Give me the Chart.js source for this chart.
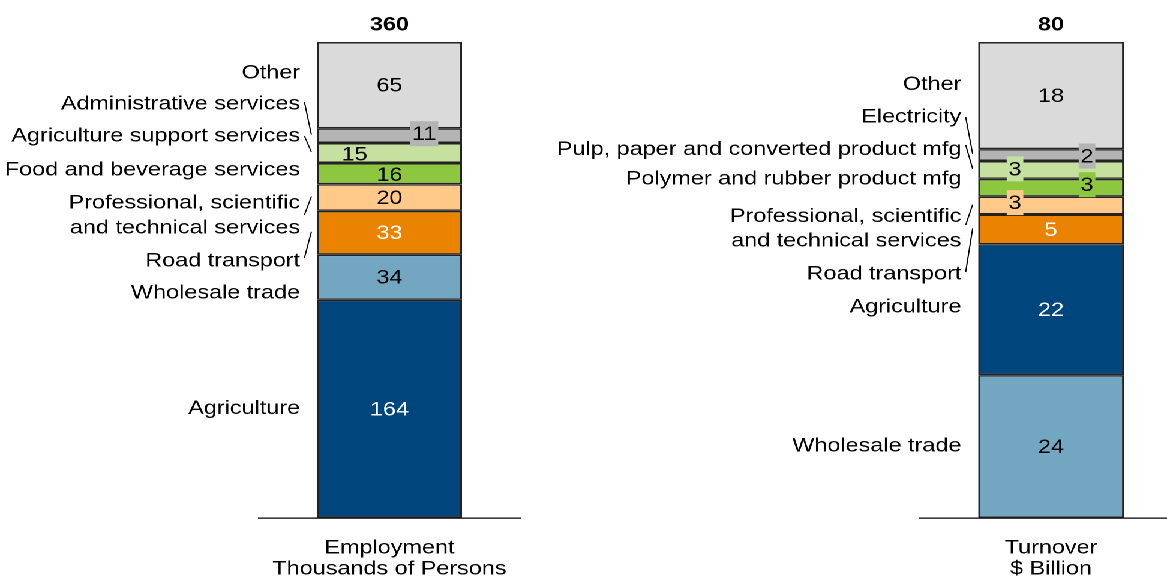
<!DOCTYPE html>
<html>
<head>
<meta charset="utf-8">
<script src="https://cdn.jsdelivr.net/npm/chart.js@4.4.0/dist/chart.umd.min.js"></script>
<style>
html, body { margin: 0; padding: 0; background: #fff; width: 1167px; height: 578px; overflow: hidden; }
#wrap { position: absolute; left: 0; top: 0; width: 1010px; height: 600px; transform: scaleX(1.2); transform-origin: 0 0; }
#empChart { position: absolute; left: 0; top: 0; }
#turnChart { position: absolute; left: 440px; top: 0; }
</style>
</head>
<body>
<div id="wrap">
  <canvas id="empChart" width="460" height="600"></canvas>
  <canvas id="turnChart" width="570" height="600"></canvas>
</div>
<script>
// values, bottom segment first
var empCategories = ['Agriculture', 'Wholesale trade', 'Road transport', ['Professional, scientific', 'and technical services'],
  'Food and beverage services', 'Agriculture support services', 'Administrative services', 'Other'];
var empValues = [164, 34, 33, 20, 16, 15, 11, 65];
var empTotal = 360;
var empTick = ['Employment', 'Thousands of Persons'];

var turnCategories = ['Wholesale trade', 'Agriculture', 'Road transport', ['Professional, scientific', 'and technical services'],
  'Polymer and rubber product mfg', 'Pulp, paper and converted product mfg', 'Electricity', 'Other'];
var turnValues = [24, 22, 5, 3, 3, 3, 2, 18];
var turnTotal = 80;
var turnTick = ['Turnover', '$ Billion'];

// colours
var navy = '#00457c', steel = '#73a6c0', orange = '#e98300', peach = '#ffc98a';
var green = '#8dc63f', lightGreen = '#c5e09f', grey = '#b4b4b4', lightGrey = '#dadada';
var empColors = [navy, steel, orange, peach, green, lightGreen, grey, lightGrey];
var turnColors = [steel, navy, orange, peach, green, lightGreen, grey, lightGrey];
var empText = ['#fff', '#000', '#fff', '#000', '#000', '#000', '#000', '#000'];
var turnText = ['#000', '#fff', '#fff', '#000', '#000', '#000', '#000', '#000'];

// label layout (pixels)
var empLabelY = [407.5, 292, 260, [202, 227], 169, 135, 103, 72];
var empLeader = [null, null, 258, 215, null, 136, 102, null];
var empValDx = [0, 0, 0, 0, 0, -29, 29, 0];
var empValDy = [0, 0, 0, 0, 1, 1, -2, 0];
var empValBox = [false, false, false, false, false, false, true, false];

var turnLabelY = [445, 306, 273, [215.5, 240], 178, 148.5, 116, 83.5];
var turnLeader = [null, null, 272, 225, null, 145, 117, null];
var turnValDx = [0, 0, 0, -30, 30, -30, 30, 0];
var turnValDy = [0, 0, 0, -3, -3, -1, 1, 0];
var turnValBox = [false, false, false, true, true, true, true, false];

var FONT = '"Liberation Sans", Arial, sans-serif';
Chart.defaults.font.family = FONT;
Chart.defaults.font.size = 19.5;
Chart.defaults.color = '#000';

function segLabels(o) {
  return {
    id: 'segLabels',
    afterDraw: function (chart) {
      var ctx = chart.ctx;
      ctx.save();
      ctx.font = '19.5px ' + FONT;
      ctx.textBaseline = 'middle';
      var top = null;
      for (var i = 0; i < o.values.length; i++) {
        var el = chart.getDatasetMeta(i).data[0];
        var left = el.x - el.width / 2;
        var mid = (el.y + el.base) / 2;
        if (top === null || el.y < top.y) top = el;

        // value inside the segment
        var vx = el.x + o.valDx[i], vy = mid + o.valDy[i];
        var txt = String(o.values[i]);
        if (o.valBox[i]) {
          var w = ctx.measureText(txt).width + 3;
          ctx.fillStyle = o.colors[i];
          ctx.fillRect(vx - w / 2, vy - 12.5, w, 25);
        }
        ctx.fillStyle = o.text[i];
        ctx.textAlign = 'center';
        ctx.fillText(txt, vx, vy + 1);

        // category name to the left
        ctx.fillStyle = '#000';
        ctx.textAlign = 'right';
        var names = Array.isArray(o.categories[i]) ? o.categories[i] : [o.categories[i]];
        var ys = Array.isArray(o.labelY[i]) ? o.labelY[i] : [o.labelY[i]];
        for (var k = 0; k < names.length; k++) ctx.fillText(names[k], left - 14, ys[k] + 1);

        if (o.leader[i] !== null) {
          ctx.strokeStyle = '#000';
          ctx.lineWidth = 1;
          ctx.beginPath();
          ctx.moveTo(left - 10.4, o.leader[i]);
          ctx.lineTo(left - 4.6, mid - 1);
          ctx.stroke();
        }
      }
      // total above the bar
      ctx.font = 'bold 19.5px ' + FONT;
      ctx.textAlign = 'center';
      ctx.fillStyle = '#000';
      ctx.fillText(String(o.total), top.x, top.y - 17);
      ctx.restore();
    }
  };
}

function makeChart(id, o) {
  var sum = o.values.reduce(function (a, b) { return a + b; }, 0);
  var datasets = o.values.map(function (v, i) {
    return {
      label: [].concat(o.categories[i]).join(' '),
      data: [v],
      backgroundColor: o.colors[i],
      borderColor: '#222',
      borderWidth: 1.5,
      borderSkipped: false,
      barPercentage: 0.556,
      categoryPercentage: 1
    };
  });
  return new Chart(document.getElementById(id), {
    type: 'bar',
    data: { labels: [o.tick], datasets: datasets },
    options: {
      responsive: false,
      devicePixelRatio: 2,
      animation: false,
      layout: { padding: { top: 42, left: o.padLeft, right: o.padRight, bottom: 9 } },
      plugins: { legend: { display: false }, tooltip: { enabled: false } },
      scales: {
        x: {
          stacked: true,
          grid: { display: false },
          border: { display: true, color: '#000', width: 1.2 },
          ticks: { color: '#000', padding: 11.5, font: { size: 19.5, lineHeight: 1.08 } }
        },
        y: { stacked: true, display: false, min: 0, max: sum }
      }
    },
    plugins: [segLabels(o)]
  });
}

makeChart('empChart', {
  categories: empCategories, values: empValues, total: empTotal, tick: empTick,
  colors: empColors, text: empText, labelY: empLabelY, leader: empLeader,
  valDx: empValDx, valDy: empValDy, valBox: empValBox, padLeft: 215.8, padRight: 26.7
});
makeChart('turnChart', {
  categories: turnCategories, values: turnValues, total: turnTotal, tick: turnTick,
  colors: turnColors, text: turnText, labelY: turnLabelY, leader: turnLeader,
  valDx: turnValDx, valDy: turnValDy, valBox: turnValBox, padLeft: 326.7, padRight: 25
});
</script>
</body>
</html>
